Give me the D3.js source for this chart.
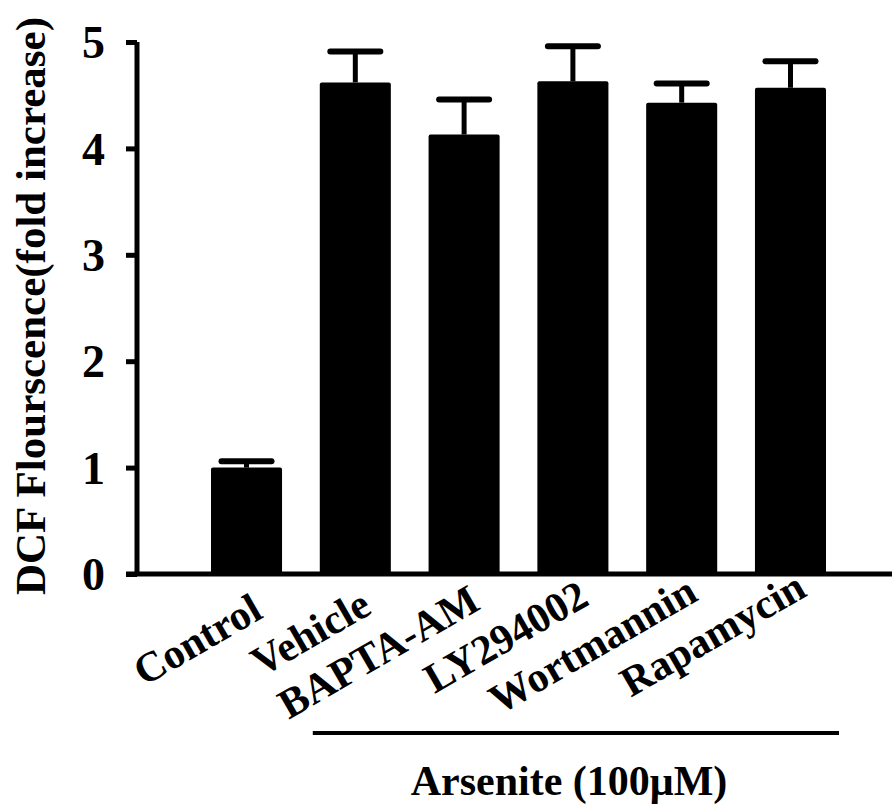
<!DOCTYPE html>
<html>
<head>
<meta charset="utf-8">
<script src="https://cdn.jsdelivr.net/npm/d3@7"></script>
<style>
  body { margin: 0; background: #fff; }
  text { font-family: "Liberation Serif", "Times New Roman", serif; font-weight: bold; fill: #000; }
</style>
</head>
<body>
<div></div>
<script>
// groups and readings (fold increase over control)
var groups = ["Control", "Vehicle", "BAPTA-AM", "LY294002", "Wortmannin", "Rapamycin"];
var means = [1.0, 4.62, 4.13, 4.63, 4.43, 4.57];
var errors = [0.06, 0.29, 0.33, 0.33, 0.18, 0.25];
var yTicks = [0, 1, 2, 3, 4, 5];
var treated = groups.slice(1);  // groups under the arsenite bracket

var width = 892, height = 806;

var svg = d3.select("div").append("svg")
        .attr("width", width)
        .attr("height", height);

var x = d3.scaleBand()
        .domain(groups)
        .range([211, 826])
        .paddingInner(0.347)
        .paddingOuter(0);

var y = d3.scaleLinear()
        .domain([0, 5])
        .range([574, 42]);

// bars
svg.selectAll("rect.bar")
    .data(groups)
    .enter().append("rect")
    .attr("class", "bar")
    .attr("x", function(d) { return x(d); })
    .attr("y", function(d, i) { return y(means[i]); })
    .attr("width", x.bandwidth())
    .attr("height", function(d, i) { return y(0) - y(means[i]); })
    .attr("rx", 2)
    .attr("fill", "#000");

// error bars, upper side only
var err = svg.selectAll("g.err")
        .data(groups)
        .enter().append("g")
        .attr("class", "err");

err.append("line")
    .attr("x1", function(d) { return x(d) + x.bandwidth()/2; })
    .attr("x2", function(d) { return x(d) + x.bandwidth()/2; })
    .attr("y1", function(d, i) { return y(means[i]); })
    .attr("y2", function(d, i) { return y(means[i] + errors[i]); })
    .attr("stroke", "#000")
    .attr("stroke-width", 5);

err.append("line")
    .attr("x1", function(d) { return x(d) + x.bandwidth()/2 - 25; })
    .attr("x2", function(d) { return x(d) + x.bandwidth()/2 + 25; })
    .attr("y1", function(d, i) { return y(means[i] + errors[i]); })
    .attr("y2", function(d, i) { return y(means[i] + errors[i]); })
    .attr("stroke", "#000")
    .attr("stroke-width", 6)
    .attr("stroke-linecap", "round");

// y axis
var yAxis = svg.append("g")
        .attr("transform", "translate(137,0)")
        .call(d3.axisLeft(y).tickValues(yTicks).tickFormat(d3.format("d"))
              .tickSize(11).tickPadding(21));
yAxis.select(".domain").attr("stroke-width", 5).attr("d", "M0," + y(5) + "V" + y(0));
yAxis.selectAll(".tick line").attr("stroke-width", 5);
yAxis.selectAll(".tick text")
    .style("font-size", "46px")
    .attr("dy", "0.34em");

// x axis baseline
svg.append("line")
    .attr("x1", 126).attr("x2", width)
    .attr("y1", y(0)).attr("y2", y(0))
    .attr("stroke", "#000")
    .attr("stroke-width", 5);

// slanted category labels (the row drifts up a little to the right)
svg.selectAll("text.cat")
    .data(groups)
    .enter().append("text")
    .attr("class", "cat")
    .attr("transform", function(d, i) {
        return "translate(" + (x(d) + x.bandwidth()/2 + 18) + "," + (617 - 4.4*i) + ") rotate(-30)";
    })
    .attr("text-anchor", "end")
    .style("font-size", "42px")
    .text(function(d) { return d; });

// y title
svg.append("text")
    .attr("transform", "translate(45,306) rotate(-90)")
    .attr("text-anchor", "middle")
    .style("font-size", "43px")
    .text("DCF Flourscence(fold increase)");

// arsenite bracket
svg.append("line")
    .attr("x1", x(treated[0]) - 7)
    .attr("x2", x(treated[treated.length - 1]) + x.bandwidth() + 13)
    .attr("y1", 733).attr("y2", 733)
    .attr("stroke", "#000")
    .attr("stroke-width", 4);

svg.append("text")
    .attr("x", 569)
    .attr("y", 795)
    .attr("text-anchor", "middle")
    .style("font-size", "42px")
    .text("Arsenite (100\u03bcM)");
</script>
</body>
</html>
